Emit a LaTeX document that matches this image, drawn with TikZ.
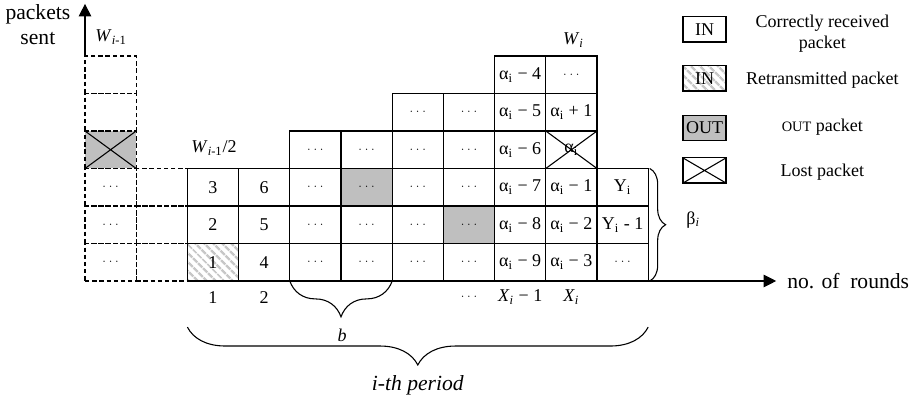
\documentclass[tikz,border=0pt]{standalone}
\usepackage{fontspec}
\setmainfont{Liberation Serif}
\usepackage{tikz}
\usetikzlibrary{arrows.meta,patterns.meta,decorations.pathreplacing}

\newcommand{\alfi}{α\textsubscript{i}}
\newcommand{\dts}{{\fontsize{6}{7}\selectfont$\cdots$}}

\tikzset{
  cell/.style={draw, line width=0.6pt, minimum width=1cm, minimum height=7.324mm, inner sep=0pt, outer sep=0pt},
  ghost/.style={cell, dash pattern=on 2.4pt off 1.6pt},
  outcell/.style={cell, fill=black!25},
  retx/.style={cell, pattern={Lines[angle=-45,distance=4pt,line width=1.6pt]}, pattern color=black!22},
  lost/.style={path picture={\draw[solid, line width=0.6pt]
      (path picture bounding box.north west) -- (path picture bounding box.south east)
      (path picture bounding box.south west) -- (path picture bounding box.north east);}},
  legbox/.style={draw, line width=0.6pt, minimum width=8.4mm, minimum height=4.9mm, inner sep=0.5pt},
  brc/.style={decorate, decoration={brace, amplitude=#1}, line width=0.6pt},
  big/.style={font=\fontsize{12}{14}\selectfont},
}

\begin{document}
\begin{tikzpicture}[x=1cm, y=7.324mm, >={Triangle[length=7pt,width=7pt]}]
  \useasboundingbox (-1.66,-3.093) rectangle (16.172,7.493);
  % previous window (dashed)
  \node[ghost] (c01) at (0.5,0.5) {\dts};
  \node[ghost] (c02) at (0.5,1.5) {\dts};
  \node[ghost] (c03) at (0.5,2.5) {\dts};
  \node[ghost, fill=black!25, lost] (c04) at (0.5,3.5) {};
  \node[ghost] (c05) at (0.5,4.5) {};
  \node[ghost] (c06) at (0.5,5.5) {};
  \node[ghost] (c11) at (1.5,0.5) {};
  \node[ghost] (c12) at (1.5,1.5) {};
  \node[ghost] (c13) at (1.5,2.5) {};
  % i-th period
  \node[retx] (c21) at (2.5,0.5) {1};
  \node[cell] (c22) at (2.5,1.5) {2};
  \node[cell] (c23) at (2.5,2.5) {3};
  \node[cell] (c31) at (3.5,0.5) {4};
  \node[cell] (c32) at (3.5,1.5) {5};
  \node[cell] (c33) at (3.5,2.5) {6};
  \node[cell] (c41) at (4.5,0.5) {\dts};
  \node[cell] (c42) at (4.5,1.5) {\dts};
  \node[cell] (c43) at (4.5,2.5) {\dts};
  \node[cell] (c44) at (4.5,3.5) {\dts};
  \node[cell] (c51) at (5.5,0.5) {\dts};
  \node[cell] (c52) at (5.5,1.5) {\dts};
  \node[outcell] (c53) at (5.5,2.5) {\dts};
  \node[cell] (c54) at (5.5,3.5) {\dts};
  \node[cell] (c61) at (6.5,0.5) {\dts};
  \node[cell] (c62) at (6.5,1.5) {\dts};
  \node[cell] (c63) at (6.5,2.5) {\dts};
  \node[cell] (c64) at (6.5,3.5) {\dts};
  \node[cell] (c65) at (6.5,4.5) {\dts};
  \node[cell] (c71) at (7.5,0.5) {\dts};
  \node[outcell] (c72) at (7.5,1.5) {\dts};
  \node[cell] (c73) at (7.5,2.5) {\dts};
  \node[cell] (c74) at (7.5,3.5) {\dts};
  \node[cell] (c75) at (7.5,4.5) {\dts};
  \node[cell] (c81) at (8.5,0.5) {\alfi{} − 9};
  \node[cell] (c82) at (8.5,1.5) {\alfi{} − 8};
  \node[cell] (c83) at (8.5,2.5) {\alfi{} − 7};
  \node[cell] (c84) at (8.5,3.5) {\alfi{} − 6};
  \node[cell] (c85) at (8.5,4.5) {\alfi{} − 5};
  \node[cell] (c86) at (8.5,5.5) {\alfi{} − 4};
  \node[cell] (c91) at (9.5,0.5) {\alfi{} − 3};
  \node[cell] (c92) at (9.5,1.5) {\alfi{} − 2};
  \node[cell] (c93) at (9.5,2.5) {\alfi{} − 1};
  \node[cell, lost] (c94) at (9.5,3.5) {\alfi};
  \node[cell] (c95) at (9.5,4.5) {\alfi{} + 1};
  \node[cell] (c96) at (9.5,5.5) {\dts};
  \node[cell] (c101) at (10.5,0.5) {\dts};
  \node[cell] (c102) at (10.5,1.5) {Y\textsubscript{i} - 1};
  \node[cell] (c103) at (10.5,2.5) {Y\textsubscript{i}};
  % axes
  \coordinate (ytip) at (0,7.39);
  \coordinate (xtip) at (13.5,0);
  \draw[->, line width=0.6pt] (c06.north west) -- (ytip);
  \draw[->, line width=0.6pt] (c21.south west) -- (xtip);
  \node[big, align=center] (ylab) at (-0.92,6.83) {packets\\sent};
  \node[big, anchor=west, inner sep=0pt] (xlab) at (13.71,0) {no. of\ \ rounds};
  % window labels
  \node (wprev) at (0.51,6.51) {\textit{W}\textsubscript{\textit{i}-1}};
  \node (whalf) at (2.52,3.55) {\textit{W}\textsubscript{\textit{i}-1}/2};
  \node (wcur) at (9.54,6.43) {\textit{W}\textsubscript{\textit{i}}};
  % round numbers
  \node (r1) at (2.5,-0.43) {1};
  \node (r2) at (3.5,-0.43) {2};
  \node (rdots) at (7.5,-0.43) {\dts};
  \node (rxm) at (8.5,-0.43) {\textit{X}\textsubscript{\textit{i}} − 1};
  \node (rx) at (9.5,-0.43) {\textit{X}\textsubscript{\textit{i}}};
  % braces
  \draw[brc=0.7cm] (c51.south east) -- (c41.south west);
  \node (blab) at (5.02,-1.44) {\textit{b}};
  \draw[brc=0.74cm] ([yshift=-0.9cm]c101.south east) -- ([yshift=-0.9cm]c21.south west);
  \node[big] (period) at (6.5,-2.77) {\textit{i-th period}};
  \draw[brc=0.31cm] ([xshift=0.3mm]c103.north east) -- ([xshift=0.3mm]c101.south east);
  \node (beta) at (11.88,1.63) {β\textsubscript{\textit{i}}};
  % legend
  \node[legbox] (kin) at (12.1,6.707) {IN};
  \node[legbox, pattern={Lines[angle=-45,distance=4pt,line width=1.6pt]}, pattern color=black!22] (kre) at (12.1,5.4) {IN};
  \node[legbox, fill=black!25] (kout) at (12.1,4.08) {OUT};
  \node[legbox, lost] (klost) at (12.1,2.947) {};
  \node[align=center] (tin) at (14.4,6.59) {Correctly received\\packet};
  \node (tre) at (14.4,5.36) {Retransmitted packet};
  \node (tout) at (14.4,4.11) {{\fontsize{8}{9}\selectfont OUT} packet};
  \node (tlost) at (14.4,2.91) {Lost packet};
\end{tikzpicture}
\end{document}
